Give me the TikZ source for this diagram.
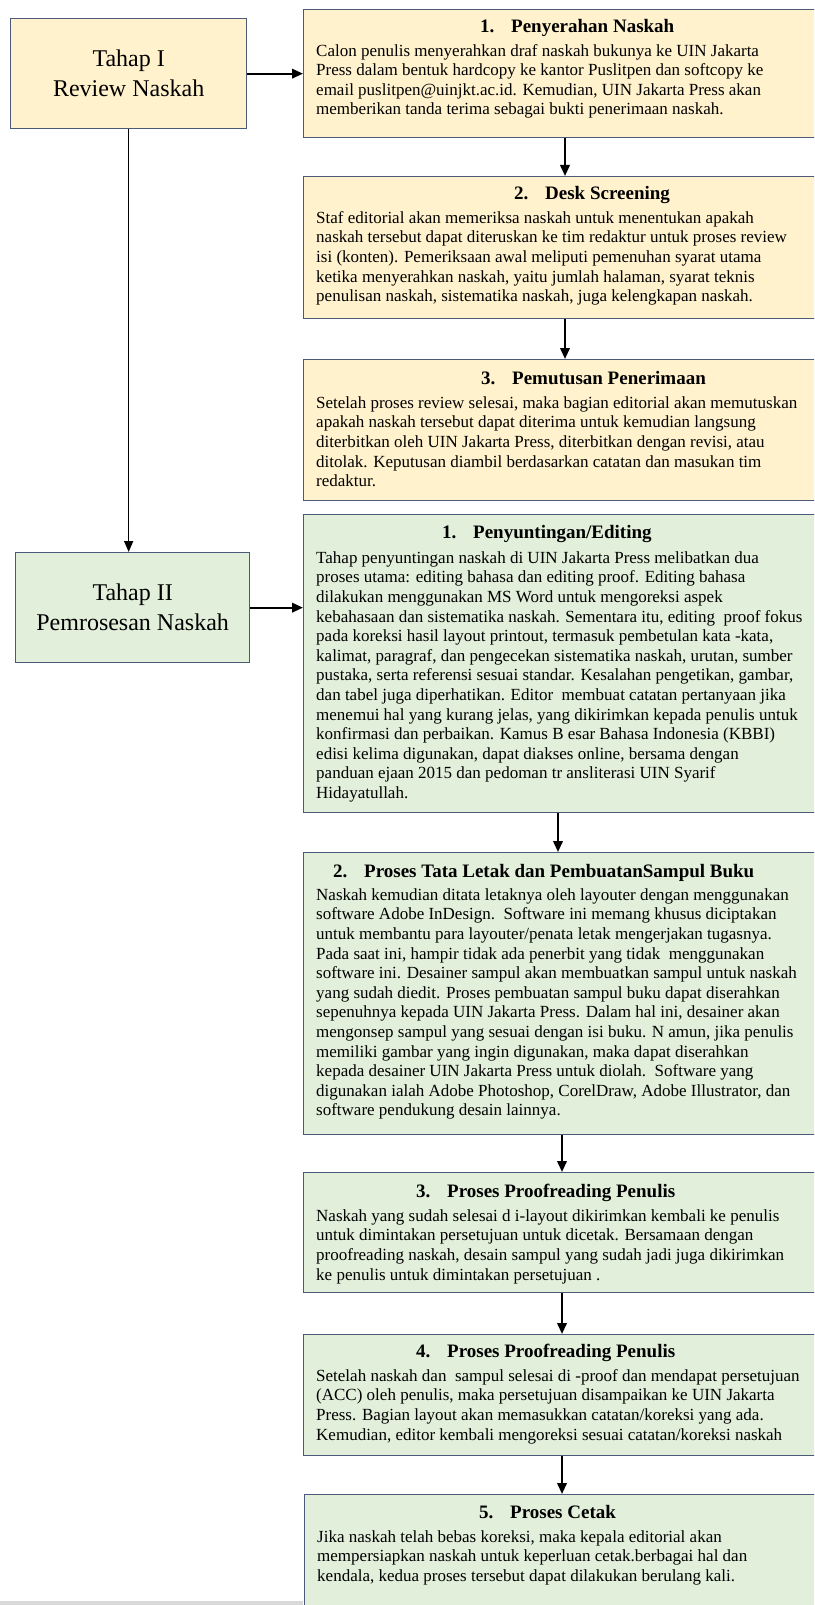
\documentclass[tikz,border=0pt]{standalone}
\usepackage{fontspec}
\setmainfont{Liberation Serif}
\usetikzlibrary{arrows.meta,calc}
\definecolor{yfill}{HTML}{FFF2CC}
\definecolor{gfill}{HTML}{E2EFDA}
\definecolor{bord}{HTML}{4A5A78}
\newcommand{\fl}{\rule{0pt}{13.5pt}}
\newcommand{\num}[1]{\makebox[31pt][l]{#1}}
\begin{document}
\begin{tikzpicture}[x=1pt,y=1pt,
  boxbase/.style={draw=bord, line width=1.3pt, anchor=north west, inner sep=0pt, minimum width=545pt},
  ybox/.style={boxbase, fill=yfill},
  gbox/.style={boxbase, fill=gfill},
  stage/.style={draw=bord, line width=1.3pt, anchor=north west, inner sep=0pt, align=center,
     font=\fontsize{24}{30}\selectfont},
  ttl/.style={anchor=base west, inner sep=0pt, font=\bfseries\fontsize{19}{20}\selectfont},
  body/.style={anchor=north west, inner sep=0pt, align=left, font=\fontsize{17}{19.6}\selectfont},
  arr/.style={line width=2.2pt, -{Triangle[length=11pt,width=9.5pt]}},
  thinarr/.style={line width=1.6pt, -{Triangle[length=11pt,width=9pt]}}
]
\useasboundingbox (0,0) rectangle (814,-1605);
\clip (0,0) rectangle (814,-1605);
\fill[white] (0,0) rectangle (814,-1605);

% stage boxes
\node[stage, fill=yfill, minimum width=236pt, minimum height=110pt] (s1) at (10,-18) {Tahap I\\Review Naskah};
\node[stage, fill=gfill, minimum width=234pt, minimum height=110pt] (s2) at (15,-552) {Tahap II\\Pemrosesan Naskah};

% Tahap I boxes
\node[ybox, minimum height=128pt] (b1) at (303,-9) {};
\node[ttl] (t1) at (480,-33) {\num{1.}Penyerahan Naskah};
\node[body] (x1) at (316,-42.5) {\fl Calon penulis menyerahkan draf naskah bukunya ke UIN Jakarta\\
Press dalam bentuk hardcopy ke kantor Puslitpen dan softcopy ke\\
email puslitpen@uinjkt.ac.id. Kemudian, UIN Jakarta Press akan\\
memberikan tanda terima sebagai bukti penerimaan naskah.};

\node[ybox, minimum height=142pt] (b2) at (303,-176) {};
\node[ttl] (t2) at (514,-200) {\num{2.}Desk Screening};
\node[body] (x2) at (316,-209.5) {\fl Staf editorial akan memeriksa naskah untuk menentukan apakah\\
naskah tersebut dapat diteruskan ke tim redaktur untuk proses review\\
isi (konten). Pemeriksaan awal meliputi pemenuhan syarat utama\\
ketika menyerahkan naskah, yaitu jumlah halaman, syarat teknis\\
penulisan naskah, sistematika naskah, juga kelengkapan naskah.};

\node[ybox, minimum height=141pt] (b3) at (303,-359) {};
\node[ttl] (t3) at (481,-384) {\num{3.}Pemutusan Penerimaan};
\node[body] (x3) at (316,-394.5) {\fl Setelah proses review selesai, maka bagian editorial akan memutuskan\\
apakah naskah tersebut dapat diterima untuk kemudian langsung\\
diterbitkan oleh UIN Jakarta Press, diterbitkan dengan revisi, atau\\
ditolak. Keputusan diambil berdasarkan catatan dan masukan tim\\
redaktur.};

% Tahap II boxes
\node[gbox, minimum height=298pt] (b4) at (303,-514) {};
\node[ttl] (t4) at (442,-538) {\num{1.}Penyuntingan/Editing};
\node[body] (x4) at (316,-549.5) {\fl Tahap penyuntingan naskah di UIN Jakarta Press melibatkan dua\\
proses utama: editing bahasa dan editing proof. Editing bahasa\\
dilakukan menggunakan MS Word untuk mengoreksi aspek\\
kebahasaan dan sistematika naskah. Sementara itu, editing\ \ proof fokus\\
pada koreksi hasil layout printout, termasuk pembetulan kata -kata,\\
kalimat, paragraf, dan pengecekan sistematika naskah, urutan, sumber\\
pustaka, serta referensi sesuai standar. Kesalahan pengetikan, gambar,\\
dan tabel juga diperhatikan. Editor\ \ membuat catatan pertanyaan jika\\
menemui hal yang kurang jelas, yang dikirimkan kepada penulis untuk\\
konfirmasi dan perbaikan. Kamus B esar Bahasa Indonesia (KBBI)\\
edisi kelima digunakan, dapat diakses online, bersama dengan\\
panduan ejaan 2015 dan pedoman tr ansliterasi UIN Syarif\\
Hidayatullah.};

\node[gbox, minimum height=282pt] (b5) at (303,-852) {};
\node[ttl] (t5) at (333,-877) {\num{2.}Proses Tata Letak dan PembuatanSampul Buku};
\node[body] (x5) at (316,-886.5) {\fl Naskah kemudian ditata letaknya oleh layouter dengan menggunakan\\
software Adobe InDesign.\ \ Software ini memang khusus diciptakan\\
untuk membantu para layouter/penata letak mengerjakan tugasnya.\\
Pada saat ini, hampir tidak ada penerbit yang tidak\ \ menggunakan\\
software ini. Desainer sampul akan membuatkan sampul untuk naskah\\
yang sudah diedit. Proses pembuatan sampul buku dapat diserahkan\\
sepenuhnya kepada UIN Jakarta Press. Dalam hal ini, desainer akan\\
mengonsep sampul yang sesuai dengan isi buku. N amun, jika penulis\\
memiliki gambar yang ingin digunakan, maka dapat diserahkan\\
kepada desainer UIN Jakarta Press untuk diolah.\ \ Software yang\\
digunakan ialah Adobe Photoshop, CorelDraw, Adobe Illustrator, dan\\
software pendukung desain lainnya.};

\node[gbox, minimum height=120pt] (b6) at (303,-1172) {};
\node[ttl] (t6) at (416,-1197) {\num{3.}Proses Proofreading Penulis};
\node[body] (x6) at (316,-1207.5) {\fl Naskah yang sudah selesai d i-layout dikirimkan kembali ke penulis\\
untuk dimintakan persetujuan untuk dicetak. Bersamaan dengan\\
proofreading naskah, desain sampul yang sudah jadi juga dikirimkan\\
ke penulis untuk dimintakan persetujuan .};

\node[gbox, minimum height=121pt] (b7) at (303,-1334) {};
\node[ttl] (t7) at (416,-1357) {\num{4.}Proses Proofreading Penulis};
\node[body] (x7) at (316,-1367.5) {\fl Setelah naskah dan\ \ sampul selesai di -proof dan mendapat persetujuan\\
(ACC) oleh penulis, maka persetujuan disampaikan ke UIN Jakarta\\
Press. Bagian layout akan memasukkan catatan/koreksi yang ada.\\
Kemudian, editor kembali mengoreksi sesuai catatan/koreksi naskah};

\node[gbox, minimum height=160pt] (b8) at (304,-1494) {};
\node[ttl] (t8) at (479,-1518) {\num{5.}Proses Cetak};
\node[body] (x8) at (317,-1528.5) {\fl Jika naskah telah bebas koreksi, maka kepala editorial akan\\
mempersiapkan naskah untuk keperluan cetak.berbagai hal dan\\
kendala, kedua proses tersebut dapat dilakukan berulang kali.};

% bottom strip
\fill[black!15] (0,-1601) rectangle (303,-1605);

% connectors
\draw[arr] (s1.east) -- (s1.east -| b1.west);
\draw[thinarr] (s1.south) -- (s1.south |- s2.north);
\draw[arr] (s2.east) -- (s2.east -| b4.west);
\coordinate (ca) at (565,0);
\coordinate (cb) at (558,0);
\coordinate (cc) at (562,0);
\draw[arr] (ca |- b1.south) -- (ca |- b2.north);
\draw[arr] (ca |- b2.south) -- (ca |- b3.north);
\draw[arr] (cb |- b4.south) -- (cb |- b5.north);
\draw[arr] (cc |- b5.south) -- (cc |- b6.north);
\draw[arr] (cc |- b6.south) -- (cc |- b7.north);
\draw[arr] (cc |- b7.south) -- (cc |- b8.north);
\end{tikzpicture}
\end{document}
